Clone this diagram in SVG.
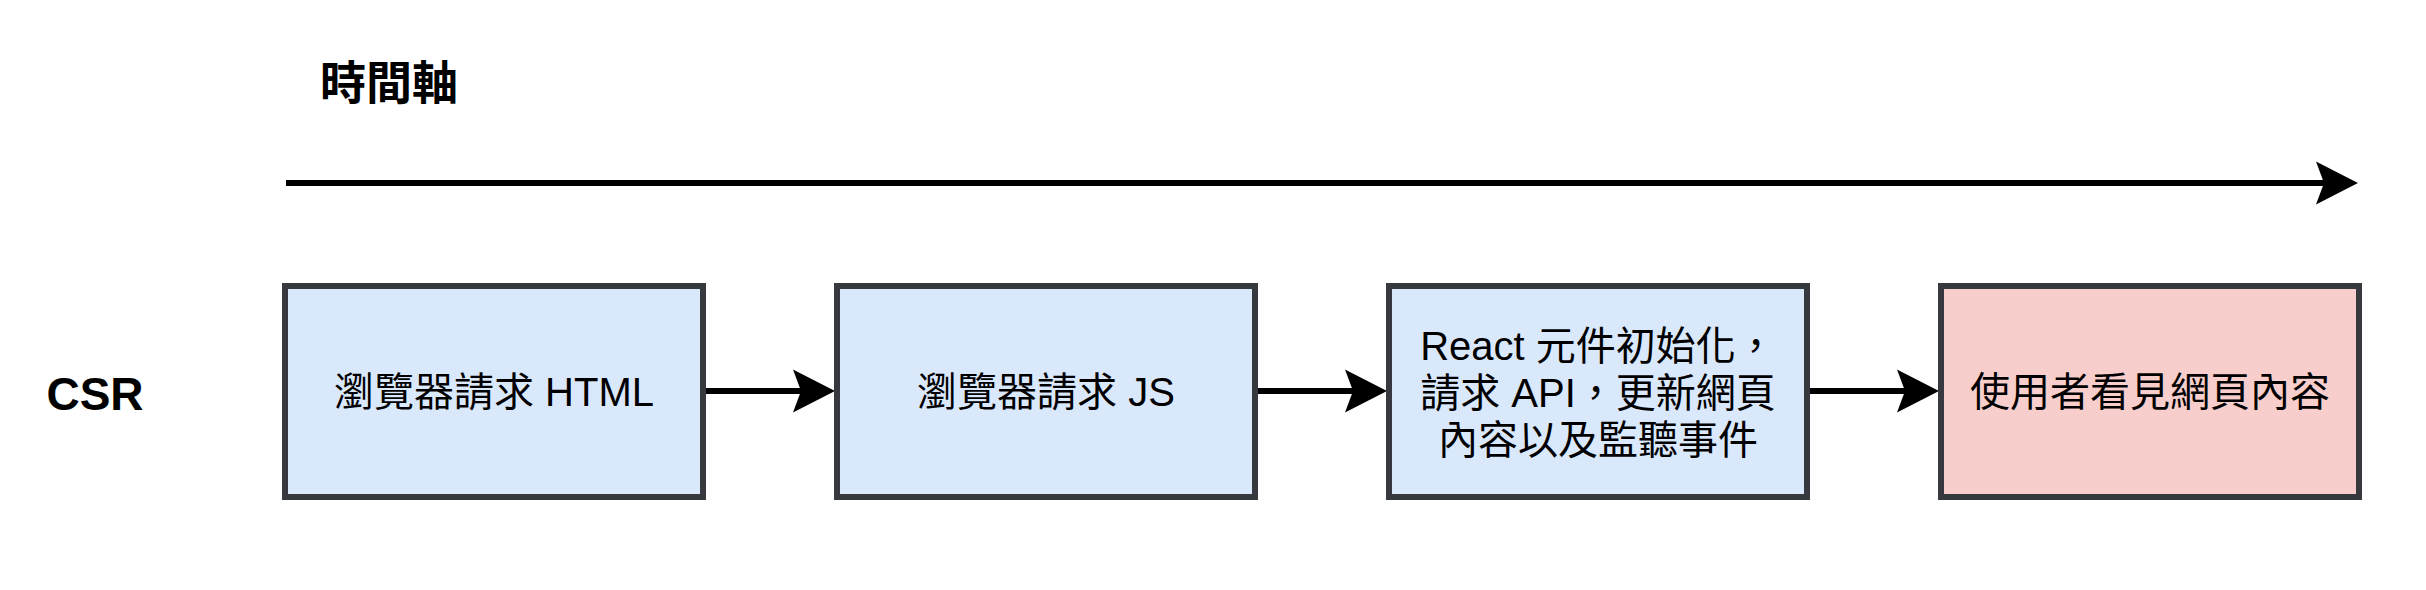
<svg xmlns="http://www.w3.org/2000/svg" width="2426" height="590" viewBox="0 0 2426 590">
  <style>
    .box { stroke: #36393d; stroke-width: 6; }
    .blue { fill: #dae8fc; }
    .pink { fill: #f8cecc; }
    .lbl { font-family: "Liberation Sans", "Noto Sans CJK TC", sans-serif; font-size: 40px; fill: #000; text-anchor: middle; }
    .bold { font-family: "Liberation Sans", "Noto Sans CJK TC", sans-serif; font-weight: bold; font-size: 46px; fill: #000; text-anchor: middle; }
    .conn { stroke: #000; stroke-width: 6; fill: none; }
  </style>
  <defs>
    <marker id="arrow" markerUnits="userSpaceOnUse" markerWidth="44" markerHeight="44" refX="8" refY="22" orient="auto" overflow="visible">
      <path d="M0,0.5 L42,22 L0,43.5 L8,22 Z" fill="#000"/>
    </marker>
  </defs>
  <rect width="2426" height="590" fill="#ffffff"/>

  <g id="title">
    <text class="bold" x="389" y="99">時間軸</text>
  </g>
  <g id="csr-label">
    <text class="bold" x="95" y="410">CSR</text>
  </g>

  <g id="connectors">
    <line class="conn" x1="286" y1="183" x2="2324" y2="183" marker-end="url(#arrow)"/>
    <line class="conn" x1="706" y1="391" x2="801" y2="391" marker-end="url(#arrow)"/>
    <line class="conn" x1="1258" y1="391" x2="1353" y2="391" marker-end="url(#arrow)"/>
    <line class="conn" x1="1810" y1="391" x2="1905" y2="391" marker-end="url(#arrow)"/>
  </g>

  <g id="node1">
    <rect class="box blue" x="285" y="286" width="418" height="211"/>
    <text class="lbl" x="494" y="406">瀏覽器請求 HTML</text>
  </g>
  <g id="node2">
    <rect class="box blue" x="837" y="286" width="418" height="211"/>
    <text class="lbl" x="1046" y="406">瀏覽器請求 JS</text>
  </g>
  <g id="node3">
    <rect class="box blue" x="1389" y="286" width="418" height="211"/>
    <text class="lbl" x="1598" y="360">React 元件初始化，</text>
    <text class="lbl" x="1598" y="407">請求 API，更新網頁</text>
    <text class="lbl" x="1598" y="454">內容以及監聽事件</text>
  </g>
  <g id="node4">
    <rect class="box pink" x="1941" y="286" width="418" height="211"/>
    <text class="lbl" x="2150" y="406">使用者看見網頁內容</text>
  </g>
</svg>
